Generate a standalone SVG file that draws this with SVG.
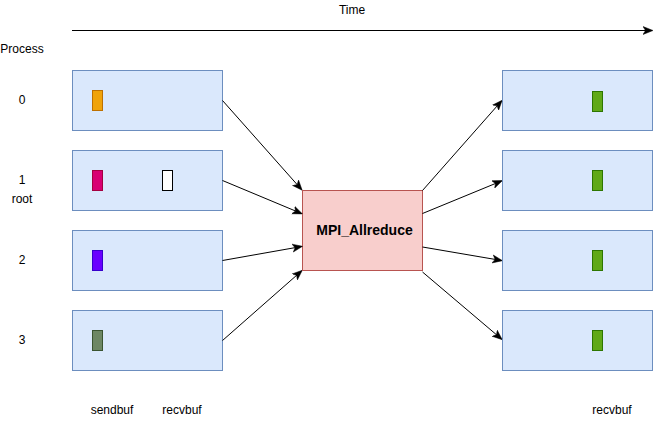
<svg xmlns="http://www.w3.org/2000/svg" width="661" height="421" viewBox="0 0 661 421">
<style>
text{font-family:"Liberation Sans",Arial,sans-serif;font-size:12px;fill:#000;}
.proc{fill:#dae8fc;stroke:#6c8ebf;stroke-width:1;}
.c{stroke:#000;stroke-width:1;fill:none;marker-end:url(#ah);}
.g{fill:#60a917;stroke:#2d7600;}
</style>
<defs>
<marker id="ah" viewBox="0 0 10 10" refX="9" refY="5" markerWidth="10" markerHeight="10" markerUnits="userSpaceOnUse" orient="auto">
<path d="M0,1 L10,5 L0,9 L2.5,5 Z" fill="#000" stroke="#000" stroke-width="0.5"/>
</marker>
</defs>
<rect width="661" height="421" fill="#fff"/>
<g id="labels">
<text x="352" y="14" text-anchor="middle">Time</text>
<text x="22" y="53" text-anchor="middle">Process</text>
<text x="22" y="104" text-anchor="middle">0</text>
<text x="22" y="184" text-anchor="middle">1</text>
<text x="22" y="203" text-anchor="middle">root</text>
<text x="22" y="264" text-anchor="middle">2</text>
<text x="22" y="344" text-anchor="middle">3</text>
<text x="112" y="414" text-anchor="middle">sendbuf</text>
<text x="182" y="414" text-anchor="middle">recvbuf</text>
<text x="612" y="414" text-anchor="middle">recvbuf</text>
</g>
<g id="p0"><rect class="proc" x="72.5" y="70.5" width="150" height="60"/><rect x="92.5" y="90.5" width="10" height="20" fill="#f0a30a" stroke="#bd7000"/></g>
<g id="p1"><rect class="proc" x="72.5" y="150.5" width="150" height="60"/><rect x="92.5" y="170.5" width="10" height="20" fill="#d80073" stroke="#a50040"/><rect x="162.5" y="170.5" width="10" height="20" fill="#fff" stroke="#000"/></g>
<g id="p2"><rect class="proc" x="72.5" y="230.5" width="150" height="60"/><rect x="92.5" y="250.5" width="10" height="20" fill="#6a00ff" stroke="#3700cc"/></g>
<g id="p3"><rect class="proc" x="72.5" y="310.5" width="150" height="60"/><rect x="92.5" y="330.5" width="10" height="20" fill="#6d8764" stroke="#3a5431"/></g>
<g id="allreduce"><rect x="302.5" y="190.5" width="120" height="80" fill="#f8cecc" stroke="#b85450"/><text x="364.5" y="235" text-anchor="middle" style="font-weight:bold;font-size:14px">MPI_Allreduce</text></g>
<g id="r0"><rect class="proc" x="502.5" y="70.5" width="150" height="60"/><rect class="g" x="592.5" y="91.5" width="10" height="20"/></g>
<g id="r1"><rect class="proc" x="502.5" y="150.5" width="150" height="60"/><rect class="g" x="592.5" y="170.5" width="10" height="20"/></g>
<g id="r2"><rect class="proc" x="502.5" y="230.5" width="150" height="60"/><rect class="g" x="592.5" y="250.5" width="10" height="20"/></g>
<g id="r3"><rect class="proc" x="502.5" y="310.5" width="150" height="60"/><rect class="g" x="592.5" y="330.5" width="10" height="20"/></g>
<g id="connectors">
<line class="c" x1="72" y1="30.5" x2="652" y2="30.5"/>
<line class="c" x1="222.5" y1="100.5" x2="301.5" y2="189.5"/>
<line class="c" x1="222.5" y1="180.5" x2="301.5" y2="213.5"/>
<line class="c" x1="222.5" y1="260.5" x2="301.5" y2="246.5"/>
<line class="c" x1="222.5" y1="340.5" x2="301.5" y2="271"/>
<line class="c" x1="422.5" y1="190.5" x2="501.5" y2="101"/>
<line class="c" x1="422.5" y1="213.5" x2="501.5" y2="181"/>
<line class="c" x1="422.5" y1="247" x2="501.5" y2="260.5"/>
<line class="c" x1="422.5" y1="272" x2="501.5" y2="339"/>
</g>
</svg>
